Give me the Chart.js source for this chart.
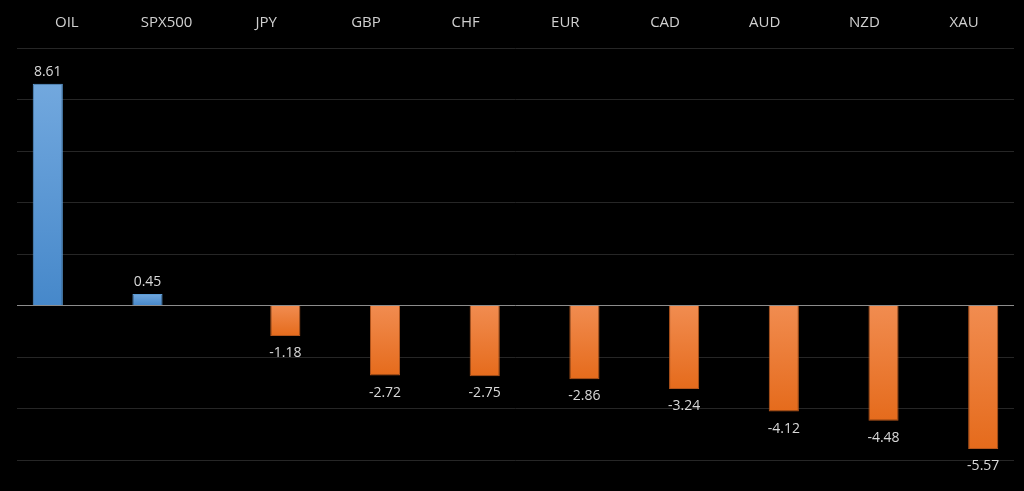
<!DOCTYPE html>
<html>
<head>
<meta charset="utf-8">
<script src="https://cdn.jsdelivr.net/npm/chart.js@4"></script>
<style>
  body { margin: 0; background: #000; }
  #wrap { width: 1024px; height: 491px; }
</style>
</head>
<body>
<div id="wrap"><canvas id="chart" width="1024" height="491"></canvas></div>
<script>
const categories = ['OIL', 'SPX500', 'JPY', 'GBP', 'CHF', 'EUR', 'CAD', 'AUD', 'NZD', 'XAU'];
const changes = [8.61, 0.45, -1.18, -2.72, -2.75, -2.86, -3.24, -4.12, -4.48, -5.57];
const yTicks = [-6, -4, -2, 0, 2, 4, 6, 8, 10];

// positives in the left slot, negatives in the right slot (like the original)
const posValues = changes.map(v => v >= 0 ? v : null);
const negValues = changes.map(v => v < 0 ? v : null);

function barGradient(context, top, bottom) {
    const chart = context.chart;
    const ys = chart.scales.y;
    const v = context.raw;
    if (!ys || v == null) return top;
    const p = ys.getPixelForValue(v);
    const b = ys.getPixelForValue(0);
    if (!Number.isFinite(p) || !Number.isFinite(b)) return top;
    const y0 = Math.min(p, b), y1 = Math.max(p, b);
    if (y1 - y0 < 1) return top;
    const g = chart.ctx.createLinearGradient(0, y0, 0, y1);
    g.addColorStop(0, top);
    g.addColorStop(1, bottom);
    return g;
}

const valueLabels = {
    id: 'valueLabels',
    afterDatasetsDraw(chart) {
        const ctx = chart.ctx;
        ctx.save();
        ctx.font = '14px "Open Sans", sans-serif';
        ctx.fillStyle = '#d9d9d9';
        ctx.textAlign = 'center';
        chart.data.datasets.forEach((ds, i) => {
            chart.getDatasetMeta(i).data.forEach((bar, j) => {
                const v = ds.data[j];
                if (v == null) return;
                if (v >= 0) {
                    ctx.textBaseline = 'bottom';
                    ctx.fillText(v.toFixed(2), bar.x, bar.y - 5);
                } else {
                    ctx.textBaseline = 'top';
                    ctx.fillText(v.toFixed(2), bar.x, bar.y + 10);
                }
            });
        });
        ctx.restore();
    }
};

const data = {
    labels: categories,
    datasets: [{
        label: 'up',
        data: posValues,
        backgroundColor: c => barGradient(c, '#72a8de', '#4688ca'),
        borderColor: '#5b9bd5',
        borderWidth: 1,
        barPercentage: 0.79,
        categoryPercentage: 0.765
    }, {
        label: 'down',
        data: negValues,
        backgroundColor: c => barGradient(c, '#f18c50', '#e56b1c'),
        borderColor: '#b5561c',
        borderWidth: 1,
        barPercentage: 0.79,
        categoryPercentage: 0.765
    }]
};

const config = {
    type: 'bar',
    data: data,
    options: {
        responsive: false,
        animation: false,
        layout: { padding: { left: 17, right: 10, top: 0, bottom: 31 } },
        plugins: { legend: { display: false }, tooltip: { enabled: false } },
        scales: {
            x: {
                position: 'top',
                grid: { display: false },
                border: { display: false },
                ticks: { color: '#d0d0d0', font: { family: 'Open Sans', size: 15 }, padding: 8 },
                afterFit: s => { s.height = 48; }
            },
            y: {
                min: yTicks[0],
                max: yTicks[yTicks.length - 1],
                afterBuildTicks: s => { s.ticks = yTicks.map(v => ({ value: v })); },
                ticks: { display: false },
                border: { display: false },
                grid: {
                    color: c => c.tick && c.tick.value === 0 ? '#8c8c8c' : '#262626',
                    lineWidth: 1,
                    drawTicks: false
                },
                afterFit: s => { s.width = 0; }
            }
        }
    },
    plugins: [valueLabels]
};

let ctx = document.getElementById('chart').getContext('2d');
new Chart(ctx, config);
</script>
</body>
</html>
